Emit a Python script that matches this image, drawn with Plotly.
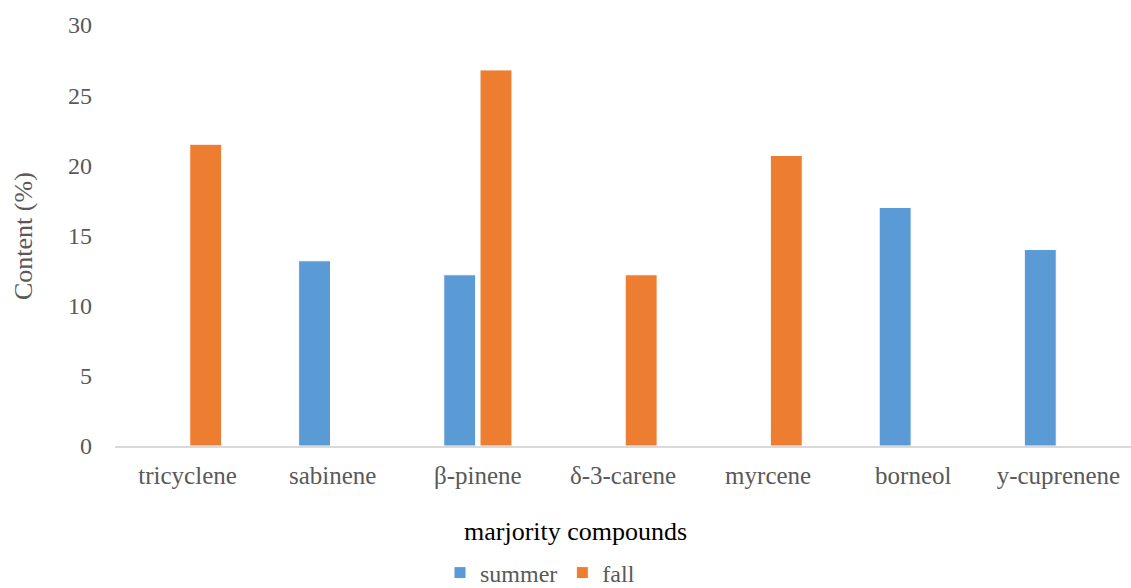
import plotly.graph_objects as go

# Major compounds and their content (%) in each season
compounds = ["tricyclene", "sabinene", "β-pinene", "δ-3-carene", "myrcene", "borneol", "y-cuprenene"]
summer = [None, 13.2, 12.2, None, None, 17.0, 14.0]
fall = [21.5, None, 26.8, 12.2, 20.7, None, None]
y_ticks = [0, 5, 10, 15, 20, 25, 30]

BLUE = "#5B9BD5"
ORANGE = "#ED7D31"
GREY = "#595959"
SERIF = "Liberation Serif"

W, H = 1131, 588
L, R, T, B = 115, 0, 25, 142
PW, PH = W - L - R, H - T - B


def px_x(x):
    return (x - L) / PW


def px_y(y):
    return (H - B - y) / PH


fig = go.Figure()
fig.add_trace(go.Bar(name="summer", x=compounds, y=summer,
                     marker=dict(color=BLUE, line=dict(color="white", width=1))))
fig.add_trace(go.Bar(name="fall", x=compounds, y=fall,
                     marker=dict(color=ORANGE, line=dict(color="white", width=1))))

fig.update_layout(
    width=W, height=H,
    margin=dict(l=L, r=R, t=T, b=B, autoexpand=False),
    paper_bgcolor="white", plot_bgcolor="white",
    barmode="group", bargap=0.5, bargroupgap=0.12,
    font=dict(family=SERIF, size=24, color=GREY),
    showlegend=True,
    legend=dict(orientation="h", x=px_x(540), xanchor="center", y=px_y(573), yanchor="middle",
                font=dict(family=SERIF, size=24, color=GREY),
                itemwidth=30, traceorder="normal", bgcolor="rgba(0,0,0,0)"),
    xaxis=dict(showgrid=False, showline=True, linecolor="#D9D9D9", linewidth=2,
               ticks="", ticklabelstandoff=6,
               tickfont=dict(family=SERIF, size=25, color=GREY)),
    yaxis=dict(range=[0, 30], tickvals=y_ticks, showgrid=False, zeroline=False,
               showline=False, ticks="", ticklabelstandoff=22,
               tickfont=dict(family=SERIF, size=24, color=GREY)),
    annotations=[
        dict(text="marjority compounds", xref="paper", yref="paper",
             x=px_x(575), y=px_y(531), xanchor="center", yanchor="middle",
             showarrow=False, font=dict(family=SERIF, size=26, color="black")),
        dict(text="Content (%)", textangle=-90, xref="paper", yref="paper",
             x=px_x(23), y=px_y(236), xanchor="center", yanchor="middle",
             showarrow=False, font=dict(family=SERIF, size=26, color=GREY)),
    ],
)

fig.write_html("out.html")
